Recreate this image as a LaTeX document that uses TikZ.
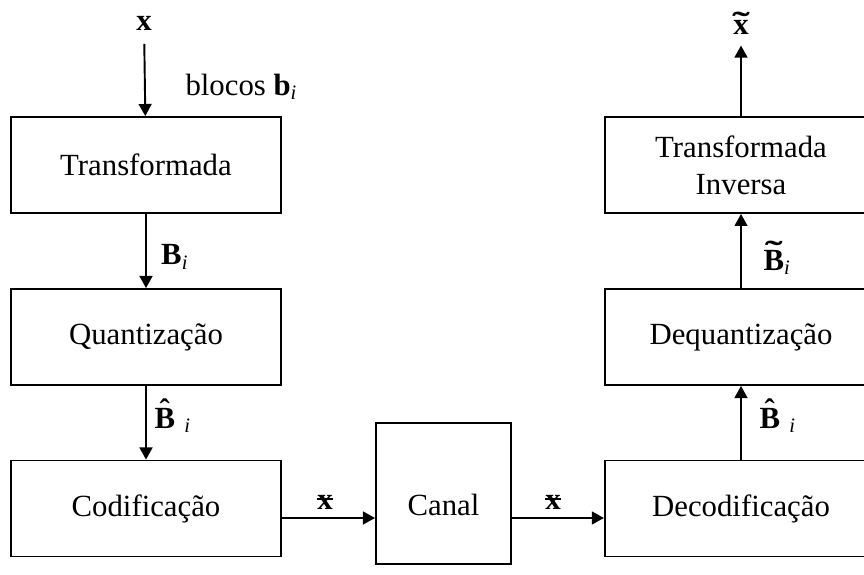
\documentclass[tikz,border=0pt]{standalone}
\usepackage{fontspec}
\usepackage{graphicx}
\setmainfont{Liberation Serif}
\usetikzlibrary{arrows.meta}

\tikzset{
  bloco/.style={draw,minimum width=3.69cm,minimum height=1.315cm,align=center,inner sep=0pt},
  blocodir/.style={bloco,minimum width=3.73cm},
  rotulo/.style={inner sep=1pt},
}
\newcommand{\xcortado}{\makebox[0pt][l]{\textbf{x}}\raisebox{0.3em}{\rule{0.5em}{0.07em}}}
\newcommand{\subi}{\textsubscript{\textit{i}}}
% acento por cima de uma letra
\newcommand{\acima}[2]{\setbox0\hbox{#2}\rlap{\makebox[\wd0]{\raisebox{\dimexpr\ht0-0.42em\relax}{#1}}}\box0}
\newcommand{\til}{\scalebox{1.7}[1]{\textbf{˜}}}
\newcommand{\chapeu}{\textbf{ˆ}}

\begin{document}
\begin{tikzpicture}[x=0.0137cm,y=-0.0137cm,line width=0.75pt,>={Triangle[length=4.7pt,width=5pt]},font=\fontsize{12}{14.4}\selectfont]
\clip (0,0) rectangle (864,575);
% coluna da esquerda
\node[bloco] (transf) at (146,165) {Transformada};
\node[bloco] (quant) at (146,337) {Quantiza\c{c}\~ao};
\node[bloco] (codif) at (146,508.5) {Codifica\c{c}\~ao};
% canal
\node[draw,minimum width=1.85cm,minimum height=1.93cm,inner sep=0pt,text height=17pt,text depth=0pt] (canal) at (443.5,493.5) {Canal};
% coluna da direita
\node[blocodir] (decod) at (741,508.5) {Decodifica\c{c}\~ao};
\node[blocodir] (dequant) at (741,337) {Dequantiza\c{c}\~ao};
\node[blocodir] (tinv) at (741,165) {Transformada\\Inversa};

\node[rotulo] (xin) at (144,23) {\textbf{x}};
\node[rotulo,anchor=west] (blocos) at (182,87) {blocos \textbf{b}\subi};
\node[rotulo] (bq) at (175,257) {\textbf{B}\subi};
\node[rotulo,anchor=west] (bc) at (151,416) {\acima{\chapeu}{\textbf{B}}\hspace{0.3em}\subi};
\node[rotulo] (x1) at (325,502) {\xcortado};
\node[rotulo] (x2) at (553,502) {\xcortado};
\node[rotulo,anchor=west] (bd) at (756,416) {\acima{\chapeu}{\textbf{B}}\hspace{0.3em}\subi};
\node[rotulo,anchor=west] (bt) at (760,258) {\acima{\til}{\textbf{B}}\subi};
\node[rotulo] (xout) at (741,23) {\acima{\til}{\textbf{x}}};

\draw[->,shorten <=4pt] (xin) -- (transf);
\draw[->] (transf) -- (quant);
\draw[->] (quant) -- (codif);
\draw[->] (codif.east |- 0,518) -- (canal.west |- 0,518);
\draw[->] (canal.east |- 0,518) -- (decod.west |- 0,518);
\draw[->] (decod) -- (dequant);
\draw[->] (dequant) -- (tinv);
\draw[->,shorten >=3pt] (tinv) -- (xout);
\end{tikzpicture}
\end{document}
